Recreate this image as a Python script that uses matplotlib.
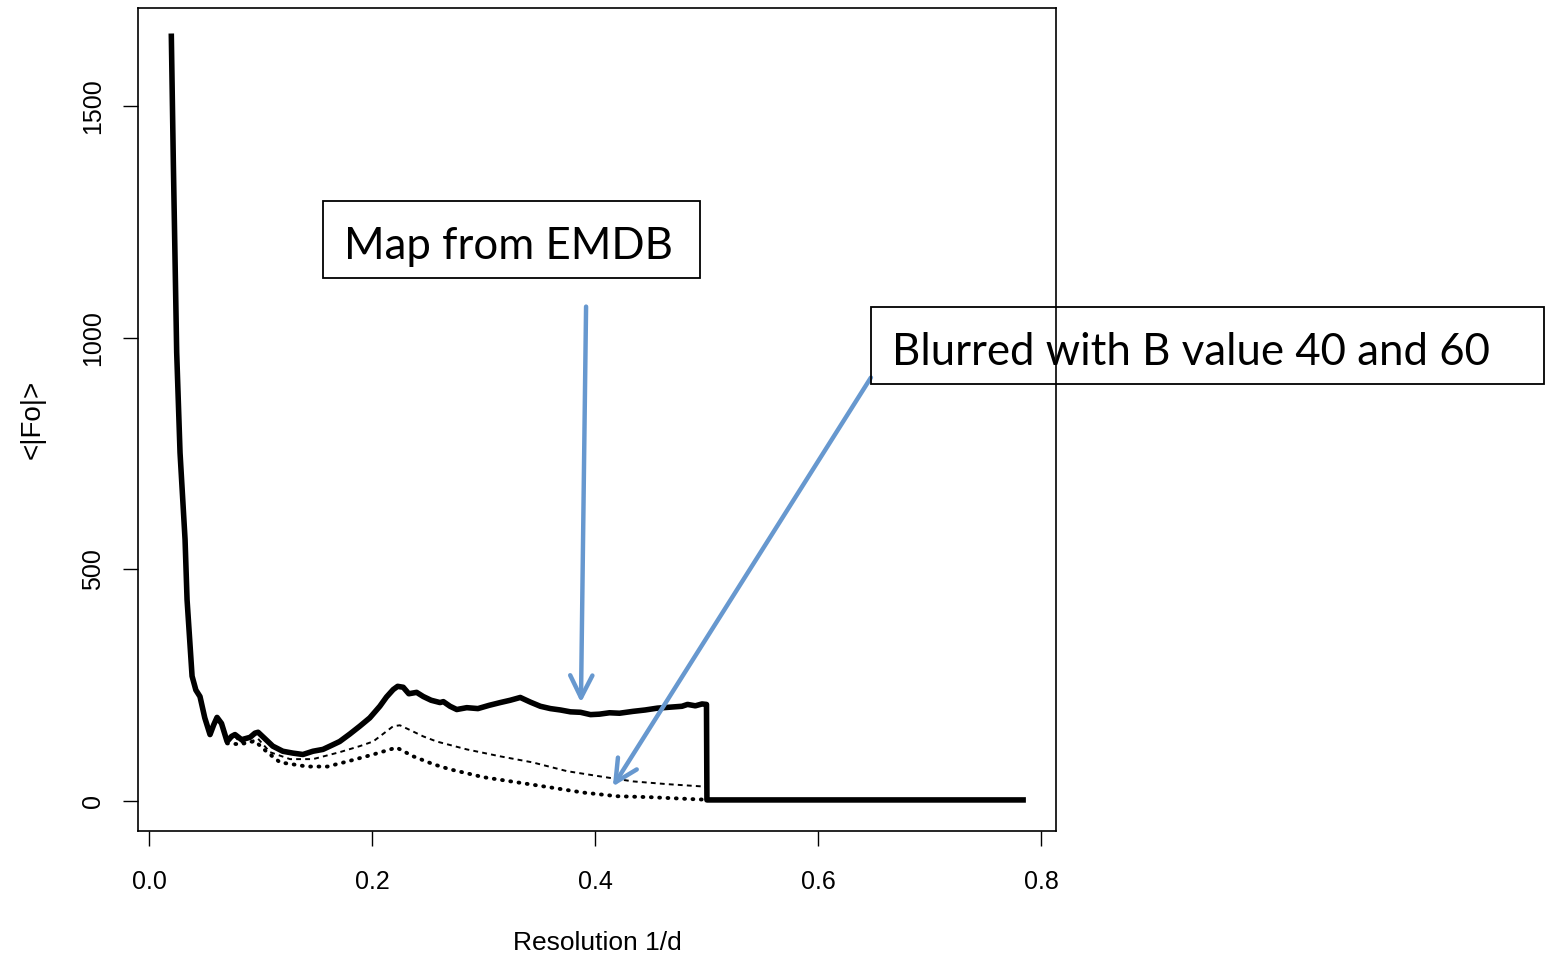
import matplotlib
matplotlib.use("Agg")
import matplotlib.pyplot as plt
from matplotlib.patches import Rectangle

# mean |Fo| per resolution shell
res_emdb = [0.0200, 0.0218, 0.0248, 0.0278, 0.0323, 0.0341, 0.0386, 0.0420, 0.0457, 0.0500,
            0.0547, 0.0580, 0.0610, 0.0650, 0.0700, 0.0740, 0.0771, 0.0830, 0.0906, 0.0950,
            0.0978, 0.1040, 0.1110, 0.1200, 0.1290, 0.1380, 0.1470, 0.1560, 0.1640, 0.1710,
            0.1800, 0.1890, 0.1980, 0.2070, 0.2130, 0.2190, 0.2230, 0.2280, 0.2330, 0.2400,
            0.2460, 0.2530, 0.2610, 0.2640, 0.2700, 0.2760, 0.2850, 0.2950, 0.3050, 0.3150,
            0.3240, 0.3330, 0.3420, 0.3510, 0.3600, 0.3690, 0.3780, 0.3870, 0.3960, 0.4040,
            0.4130, 0.4220, 0.4340, 0.4450, 0.4560, 0.4670, 0.4780, 0.4830, 0.4900, 0.4960,
            0.5000, 0.5004, 0.5500, 0.6000, 0.6500, 0.7000, 0.7500, 0.7840]
fo_emdb = [1650, 1377, 968, 752, 565, 435, 270, 240, 226, 180,
           144, 165, 181, 168, 129, 140, 144, 133, 138, 147,
           149, 135, 119, 108, 104, 101, 108, 112, 121, 129,
           145, 162, 180, 205, 225, 241, 248, 246, 232, 235,
           226, 218, 213, 215, 205, 198, 202, 200, 207, 213,
           218, 224, 214, 205, 200, 197, 193, 192, 187, 188,
           191, 190, 194, 197, 201, 203, 205, 209, 206, 210,
           209, 3, 3, 3, 3, 3, 3, 3]

res_b40 = [0.0700, 0.0771, 0.0816, 0.0906, 0.0978, 0.1085, 0.1265, 0.1470, 0.1710, 0.1890,
           0.2010, 0.2190, 0.2250, 0.2330, 0.2460, 0.2580, 0.2850, 0.3150, 0.3440, 0.3750,
           0.4040, 0.4340, 0.4650, 0.4970, 0.5000]
fo_b40 = [129, 140, 127, 128, 135, 106, 91, 91, 106, 119,
          129, 162, 164, 155, 140, 129, 112, 97, 84, 65,
          54, 43, 37, 32, 31]

res_b60 = [0.0700, 0.0816, 0.0950, 0.1060, 0.1175, 0.1420, 0.1600, 0.1780, 0.2010, 0.2220,
           0.2370, 0.2550, 0.2700, 0.3000, 0.3300, 0.3600, 0.3890, 0.4200, 0.4490, 0.4940,
           0.5000]
fo_b60 = [125, 123, 130, 106, 84, 75, 75, 86, 101, 116,
          97, 80, 69, 52, 41, 30, 19, 11, 9, 4,
          4]

x_ticks = [0.0, 0.2, 0.4, 0.6, 0.8]
y_ticks = [0, 500, 1000, 1500]

W, H = 1546, 958
BLUE = "#6798cf"
plt.rcParams["font.family"] = ["Liberation Sans", "DejaVu Sans"]
plt.rcParams["lines.scale_dashes"] = False


def fx(px):
    return px / W


def fy(py):
    return 1 - py / H


fig = plt.figure(figsize=(W / 100, H / 100), dpi=100)
ax = fig.add_axes([fx(138), fy(831), fx(1056) - fx(138), fy(8) - fy(831)])

ax.plot(res_emdb, fo_emdb, color="black", lw=4, solid_joinstyle="round")
ax.plot(res_b40, fo_b40, color="black", lw=1.4, dashes=(3.5, 3))
ax.plot(res_b60, fo_b60, color="black", lw=2.8, dashes=(0.6, 5.4), dash_capstyle="round")

ax.set_xlim(-0.0099, 0.8135)
ax.set_ylim(-64, 1711)
ax.set_xticks(x_ticks)
ax.set_xticklabels([f"{v:.1f}" for v in x_ticks])
ax.set_yticks(y_ticks)
ax.set_yticklabels([str(v) for v in y_ticks], rotation=90, va="center")
ax.tick_params(length=11, width=1, labelsize=18)
ax.tick_params(axis="x", pad=17)
ax.tick_params(axis="y", pad=13)
for s in ax.spines.values():
    s.set_linewidth(1.2)
ax.set_xlabel("Resolution 1/d", fontsize=19, labelpad=27)
ax.set_ylabel("<|Fo|>", fontsize=20, labelpad=25)

# annotation boxes (drawn over the figure, unfilled)
for (x0, y0, x1, y1), label in [((323, 201, 700, 278), "Map from EMDB"),
                                ((871, 307, 1544, 384), "Blurred with B value 40 and 60")]:
    fig.add_artist(Rectangle((fx(x0), fy(y1)), fx(x1) - fx(x0), fy(y0) - fy(y1),
                             transform=fig.transFigure, fill=False, ec="black", lw=1.3))
    fig.text(fx(x0 + 21), fy((y0 + y1) / 2 + 7), label, fontsize=31.5,
             family=["Lato", "DejaVu Sans"], va="center", ha="left")

arrow = dict(arrowstyle="->,head_length=16,head_width=8", color=BLUE, lw=3.2,
             mutation_scale=1, shrinkA=0, shrinkB=0)
ax.annotate("", xy=(0.3874, 213), xytext=(0.392, 1067), arrowprops=arrow,
            annotation_clip=False)
ax.annotate("", xy=(0.416, 32), xytext=(0.6475, 914), arrowprops=arrow,
            annotation_clip=False)

fig.savefig("out.png", dpi=100)
